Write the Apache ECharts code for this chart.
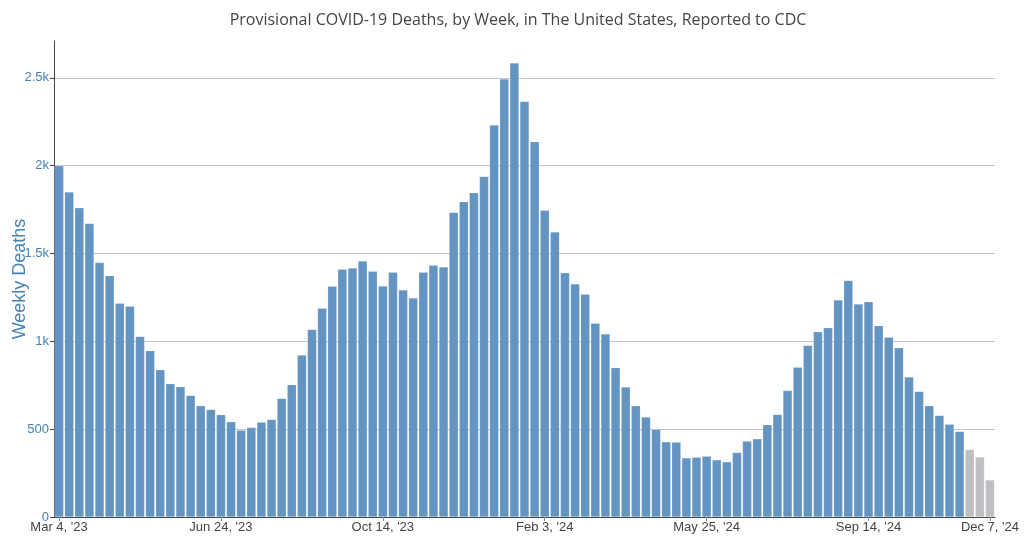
<!DOCTYPE html>
<html>
<head>
<meta charset="utf-8">
<script src="https://cdn.jsdelivr.net/npm/echarts@6/dist/echarts.min.js"></script>
<style>html,body{margin:0;padding:0;background:#fff}#c{width:1024px;height:537px}</style>
</head>
<body>
<div id="c"></div>
<script>
// Week-ending dates: first week and count
const firstWeek = '2023-03-04';
const weekCount = 93;
// x tick labels shown (index -> label)
const xTickIndices = [0, 16, 32, 48, 64, 80, 92];
const xTickLabels = ["Mar 4, '23", "Jun 24, '23", "Oct 14, '23", "Feb 3, '24", "May 25, '24", "Sep 14, '24", "Dec 7, '24"];
// y ticks
const yTickValues = [0, 500, 1000, 1500, 2000, 2500];
const yTickLabels = ['0', '500', '1k', '1.5k', '2k', '2.5k'];
// weekly deaths (reported, complete)
const reportedDeaths = [2000,1850,1760,1671,1449,1374,1217,1200,1028,947,838,758,741,692,633,612,582,542,494,509,
  540,555,675,753,922,1068,1188,1314,1411,1418,1458,1399,1315,1393,1293,1247,1393,1433,1424,1734,
  1795,1846,1939,2232,2494,2585,2365,2137,1747,1622,1390,1327,1268,1103,1042,850,740,633,570,498,
  428,426,336,340,346,325,314,367,432,445,525,584,720,852,977,1055,1078,1236,1346,1213,
  1226,1089,1023,964,797,715,633,578,528,487];
// most recent weeks (incomplete, shown gray)
const recentDeaths = [384, 342, 211];

const categories = [];
{
  const d0 = new Date(firstWeek + 'T00:00:00Z');
  for (let i = 0; i < weekCount; i++) {
    const d = new Date(d0.getTime() + i * 7 * 86400000);
    categories.push(d.toISOString().slice(0, 10));
  }
}
const blue = '#6394C2', gray = '#BEBFC2';
const data = reportedDeaths.map(v => ({value: v, itemStyle: {color: blue}}))
  .concat(recentDeaths.map(v => ({value: v, itemStyle: {color: gray}})));

const chart = echarts.init(document.getElementById('c'), null, {renderer: 'canvas'});
chart.setOption({
  animation: false,
  backgroundColor: '#fff',
  title: {
    text: 'Provisional COVID-19 Deaths, by Week, in The United States, Reported to CDC',
    left: 513, top: 7, textAlign: 'center',
    textStyle: {fontFamily: 'Open Sans', fontSize: 16, fontWeight: 'normal', color: '#444'}
  },
  grid: {left: 54, right: 29, top: 41, bottom: 20, containLabel: false, outerBoundsMode: 'none'},
  xAxis: {
    type: 'category',
    data: categories,
    boundaryGap: true,
    axisLine: {show: true, lineStyle: {color: '#444', width: 1}},
    axisTick: {show: true, alignWithLabel: true, length: 4, lineStyle: {color: '#888'},
      interval: (i) => xTickIndices.includes(i)},
    axisLabel: {
      interval: (i) => xTickIndices.includes(i),
      formatter: (v, i) => { const k = xTickIndices.indexOf(i); return k >= 0 ? xTickLabels[k] : ''; },
      color: '#444', fontFamily: 'Liberation Sans', fontSize: 13, margin: 4
    },
    splitLine: {show: false}
  },
  yAxis: {
    type: 'value',
    min: 0, max: 2710, interval: 500,
    name: 'Weekly Deaths',
    nameLocation: 'middle',
    nameGap: 25,
    nameMoveOverlap: false,
    nameTextStyle: {color: '#4682B4', fontFamily: 'Liberation Sans', fontSize: 18},
    axisLine: {show: true, lineStyle: {color: '#444', width: 1}},
    axisTick: {show: true, length: 4, lineStyle: {color: '#444'}, customValues: yTickValues},
    axisLabel: {
      customValues: yTickValues,
      formatter: (v) => { const k = yTickValues.indexOf(v); return k >= 0 ? yTickLabels[k] : ''; },
      color: '#4682B4', fontFamily: 'Liberation Sans', fontSize: 13, margin: 5
    },
    splitLine: {show: true, lineStyle: {color: '#c4c4c4', width: 1}}
  },
  series: [{
    type: 'bar',
    data: data,
    barCategoryGap: '10%',
    itemStyle: {borderColor: 'rgba(255,255,255,0.35)', borderWidth: 0.5}
  }]
});
</script>
</body>
</html>
